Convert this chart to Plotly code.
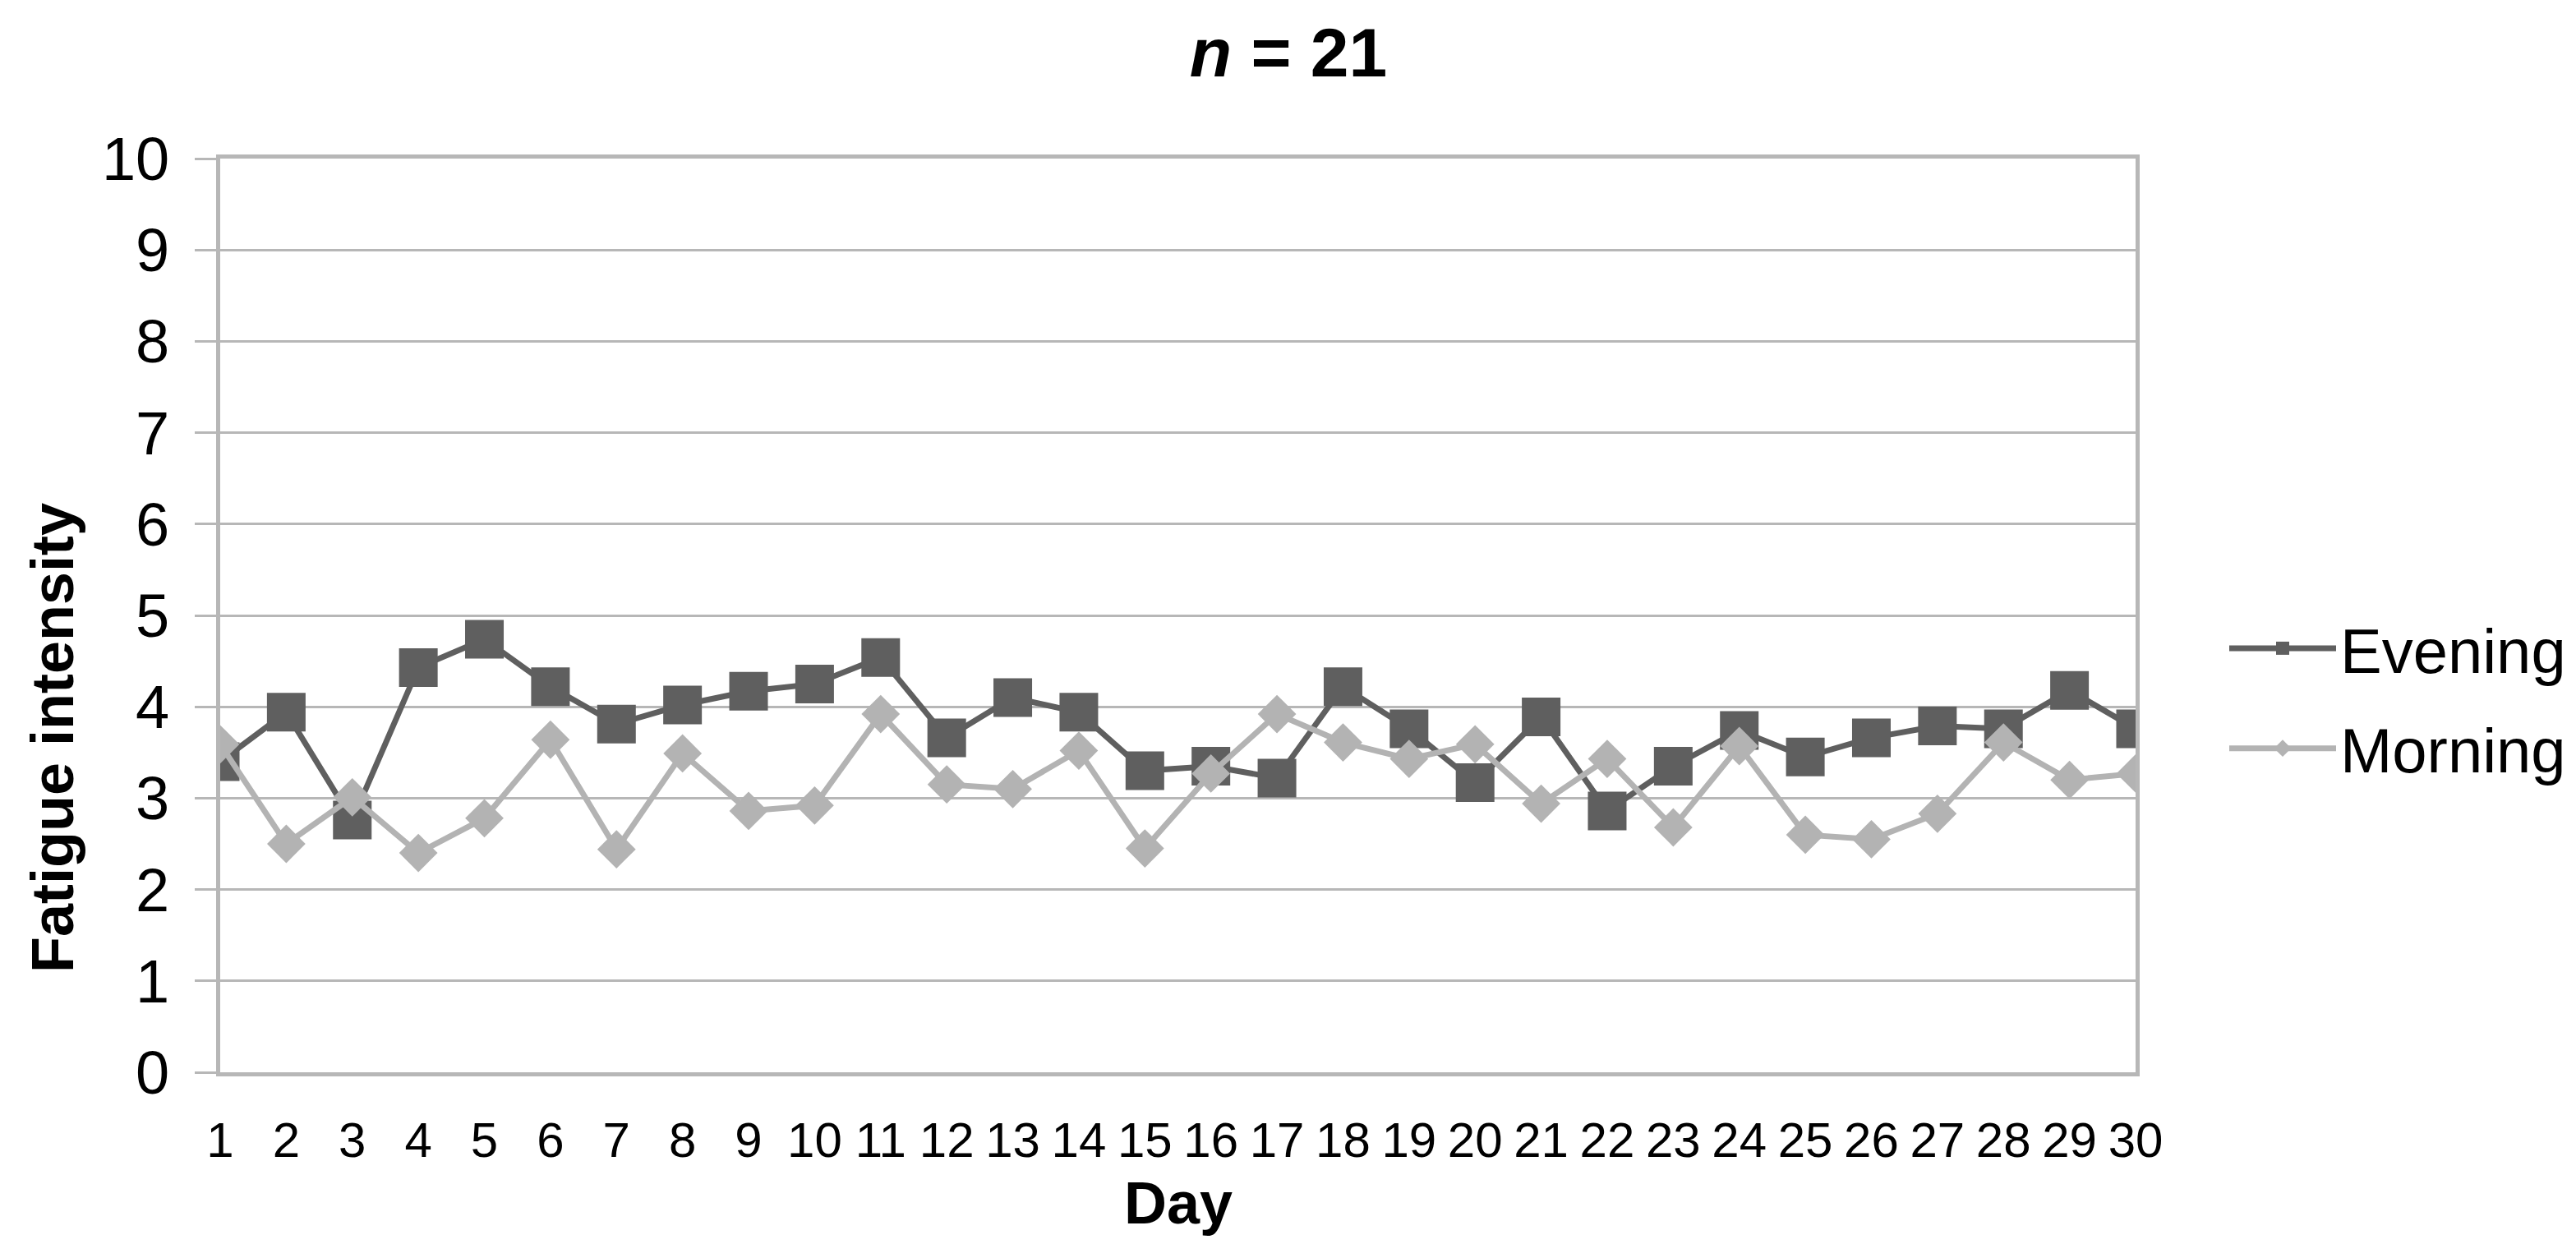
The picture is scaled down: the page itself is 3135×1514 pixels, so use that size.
import plotly.graph_objects as go

days = list(range(1, 31))
evening = [3.40, 3.94, 2.76, 4.43, 4.74, 4.22, 3.81, 4.02, 4.17, 4.25,
           4.54, 3.66, 4.10, 3.94, 3.30, 3.35, 3.22, 4.22, 3.76, 3.17,
           3.89, 2.86, 3.35, 3.74, 3.45, 3.66, 3.79, 3.76, 4.18, 3.76]
morning = [3.59, 2.50, 3.01, 2.40, 2.78, 3.64, 2.44, 3.49, 2.86, 2.92,
           3.92, 3.15, 3.10, 3.52, 2.45, 3.27, 3.92, 3.61, 3.43, 3.59,
           2.94, 3.43, 2.68, 3.57, 2.60, 2.55, 2.83, 3.61, 3.20, 3.27]
y_ticks = list(range(0, 11))

FONT = "Liberation Sans, Arial, sans-serif"
GRID = "#b7b7b7"

fig = go.Figure()
fig.add_trace(go.Scatter(
    x=days, y=evening, name="Evening", mode="lines+markers",
    line=dict(color="#5f5f5f", width=7),
    marker=dict(symbol="square", size=47, color="#5f5f5f"),
    legendgroup="e",
))
fig.add_trace(go.Scatter(
    x=days, y=morning, name="Morning", mode="lines+markers",
    line=dict(color="#b3b3b3", width=7),
    marker=dict(symbol="diamond", size=36, color="#b3b3b3"),
    legendgroup="m",
))

W, H = 3135, 1514
L, R, T, B = 260, 544, 185, 217
fig.update_layout(
    width=W, height=H,
    margin=dict(l=L, r=R, t=T, b=B),
    paper_bgcolor="white", plot_bgcolor="white",
    font=dict(family=FONT, color="black"),
    title=dict(text="<b><i>n</i> = 21</b>", x=1560 / W, xanchor="center",
               y=1 - 56 / H, yanchor="middle", font=dict(size=84, family=FONT)),
    showlegend=True,
    legend=dict(x=(2700 - L) / (W - L - R), xanchor="left",
                y=(1297 - 842) / 1112, yanchor="middle",
                font=dict(size=76, family=FONT), itemsizing="trace",
                itemwidth=130, traceorder="grouped", tracegroupgap=20,
                bgcolor="rgba(0,0,0,0)"),
)
fig.update_xaxes(
    range=[1, 30], tickmode="array", tickvals=days, ticktext=[str(d) for d in days],
    showgrid=False, zeroline=False, showline=True, linecolor=GRID, linewidth=5,
    mirror=True, ticks="", tickfont=dict(size=60, family=FONT, color="black"),
    ticklabelstandoff=26,
)
fig.update_yaxes(
    range=[0, 10], tickmode="array", tickvals=y_ticks,
    showgrid=True, gridcolor=GRID, gridwidth=3, zeroline=False,
    showline=True, linecolor=GRID, linewidth=5, mirror=True,
    ticks="outside", ticklen=26, tickwidth=3, tickcolor=GRID,
    tickfont=dict(size=74, family=FONT, color="black"), ticklabelstandoff=16,
)
fig.add_annotation(text="<b>Fatigue intensity</b>", xref="paper", yref="paper",
                   x=(56 - L) / (W - L - R), y=(1297 - 890) / 1112, textangle=-90,
                   showarrow=False, font=dict(size=72, family=FONT, color="black"),
                   xanchor="center", yanchor="middle")
fig.add_annotation(text="<b>Day</b>", xref="paper", yref="paper",
                   x=0.5, y=(1297 - 1456) / 1112, showarrow=False,
                   font=dict(size=72, family=FONT, color="black"),
                   xanchor="center", yanchor="middle")
fig.write_html("out.html")
